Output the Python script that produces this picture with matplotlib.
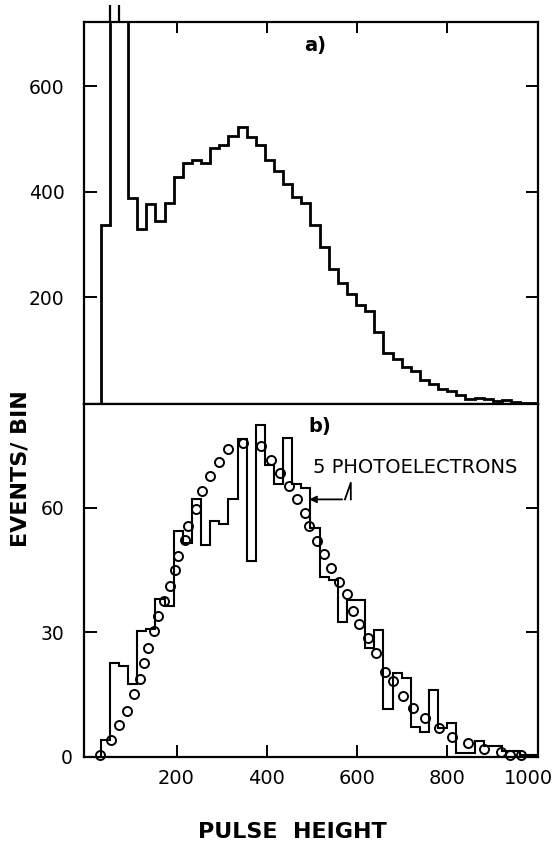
import numpy as np
import matplotlib.pyplot as plt
from matplotlib.transforms import ScaledTranslation

# pulse-height bins (same binning for both panels)
bin_start = 32
bin_width = 20.2
n_bins = 48
edges = bin_start + bin_width * np.arange(n_bins + 1)

# a) all events; bins 2-3 run off scale (first photoelectron peak)
counts_a = [338, 2000, 2000, 388, 329, 377, 345, 379, 429, 455,
            460, 454, 484, 489, 505, 523, 504, 489, 460, 440,
            415, 391, 379, 337, 296, 253, 228, 206, 185, 175,
            135, 94, 83, 68, 61, 43, 36, 27, 23, 15,
            7, 10, 7, 4, 5, 2, 0, 0]

# b) measured histogram
counts_b = [4.1, 22.6, 21.8, 17.5, 30.2, 30.8, 38, 36.3, 54.5, 51.5,
            62.2, 51, 56.9, 56.1, 62.2, 76.5, 47.1, 79.9, 70.4, 65.8,
            76.9, 65.8, 64.7, 55.2, 43.3, 42.5, 32.4, 37.7, 37.7, 26.2,
            30.6, 11.4, 20.2, 19, 7.1, 6, 16, 6.9, 8.1, 0.9,
            0.9, 3.7, 2.5, 2.5, 1.3, 1.3, 0.5, 0.5]

# b) expected shape for 5 photoelectrons (circles)
fit_x = [30, 54, 73, 90, 105, 118, 127, 137, 149, 159,
         172, 185, 196, 204, 219, 226, 243, 257, 274, 295,
         314, 347, 387, 409, 430, 448, 466, 485, 494, 512,
         526, 543, 559, 577, 591, 605, 625, 642, 662, 680,
         702, 724, 750, 782, 810, 845, 882, 918, 939, 963]
fit_y = [0.5, 4.1, 7.7, 11.1, 15, 18.8, 22.6, 26.2, 30.2, 33.8,
         37.5, 41.2, 45, 48.4, 52.3, 55.6, 59.6, 64.1, 67.6, 70.9,
         74.1, 75.5, 74.9, 71.6, 68.4, 65.3, 62.1, 58.7, 55.5, 51.9,
         48.8, 45.5, 42, 39.2, 35.2, 32, 28.7, 25, 20.5, 18.3,
         14.7, 11.8, 9.2, 7, 4.8, 3.2, 1.8, 1, 0.5, 0.5]

x_ticks = [200, 400, 600, 800, 1000]
ticks_a = [200, 400, 600]
ticks_b = [0, 30, 60]

plt.rcParams['font.family'] = ['DejaVu Sans']

fig = plt.figure(figsize=(5.56, 8.51), dpi=100)
ax1 = fig.add_axes([0.1511, 0.5253, 0.816, 0.4489])
ax2 = fig.add_axes([0.1511, 0.1099, 0.816, 0.4154])

for ax in (ax1, ax2):
    for s in ax.spines.values():
        s.set_linewidth(1.6)
    ax.set_xlim(-5, 1000)

# --- panel a
ax1.stairs(counts_a, edges, color='black', lw=2.0)
ax1.set_ylim(-2, 722)
ax1.set_yticks(ticks_a)
ax1.set_xticks(x_ticks[:-1])
ax1.tick_params(axis='y', direction='in', length=9, width=1.4, left=True, right=True,
                labelsize=13.5, pad=14)
ax1.tick_params(axis='x', direction='in', length=8, width=1.4, top=True, bottom=False,
                labelbottom=False)
# break marks on the off-scale peak
peak_mid = 0.5 * (edges[1] + edges[3])
ax1.vlines([edges[1], peak_mid], 1.0, 1.045, transform=ax1.get_xaxis_transform(),
           color='black', lw=1.6, clip_on=False)
ax1.text(508, 678, "a)", fontsize=14, fontweight='bold', ha='center', va='center')

# --- panel b
ax2.stairs(counts_b, edges, color='black', lw=1.5)
ax2.plot(fit_x, fit_y, 'o', mfc='none', mec='black', ms=6.5, mew=1.4, clip_on=False)
ax2.set_ylim(-0.2, 85)
ax2.set_yticks(ticks_b)
ax2.set_xticks(x_ticks)
ax2.tick_params(axis='y', direction='in', length=9, width=1.4, left=True, right=True,
                labelsize=13.5, pad=14)
ax2.tick_params(axis='x', direction='in', length=9, width=1.4, top=False, bottom=True,
                labelsize=14, pad=8)
ax2.text(517, 79.5, "b)", fontsize=14, fontweight='bold', ha='center', va='center')

# last x label sits left of its tick, "0" sits close to the axis
lab = ax2.xaxis.get_major_ticks()[-1].label1
lab.set_transform(lab.get_transform() + ScaledTranslation(-0.09, 0, fig.dpi_scale_trans))
lab = ax2.yaxis.get_major_ticks()[0].label1
lab.set_transform(lab.get_transform() + ScaledTranslation(0.08, 0, fig.dpi_scale_trans))

ax2.annotate("", xy=(488, 62), xytext=(573, 62),
             arrowprops=dict(arrowstyle='-|>', color='black', lw=1.3, mutation_scale=10))
ax2.plot([573, 586, 586], [62, 66, 62], color='black', lw=1.3)
ax2.text(503, 69.7, "5 PHOTOELECTRONS", fontsize=14, ha='left', va='center')

fig.text(0.036, 0.449, "EVENTS/ BIN", rotation=90, fontsize=16, fontweight='bold',
         ha='center', va='center')
fig.text(0.525, 0.022, "PULSE  HEIGHT", fontsize=16, fontweight='bold',
         ha='center', va='center')

fig.savefig("out.png", dpi=100)
